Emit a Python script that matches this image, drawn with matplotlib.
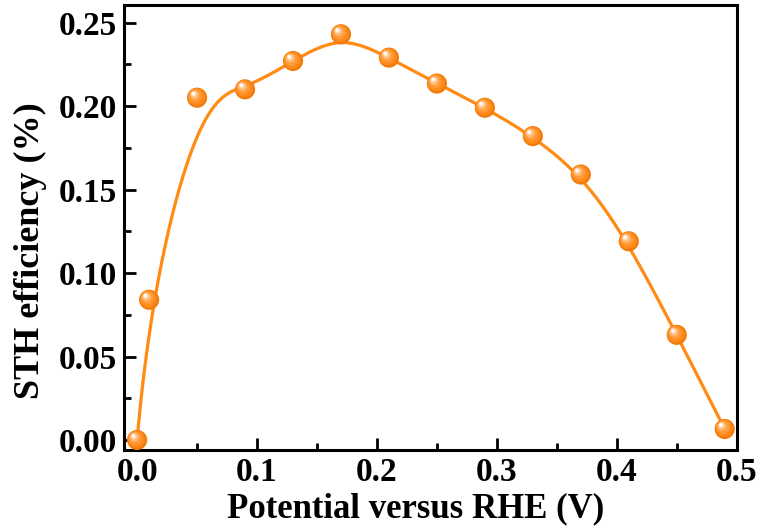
import numpy as np
import matplotlib
matplotlib.use('Agg')
import matplotlib.pyplot as plt
from matplotlib.transforms import offset_copy
from matplotlib.ticker import MultipleLocator

# data
potential = [0.00, 0.01, 0.05, 0.09, 0.13, 0.17, 0.21, 0.25, 0.29, 0.33, 0.37, 0.41, 0.45, 0.49]
sth = [0.000, 0.084, 0.205, 0.210, 0.227, 0.243, 0.229, 0.2135, 0.199, 0.182, 0.159, 0.119, 0.063, 0.0066]

xlabel = 'Potential versus RHE (V)'
ylabel = 'STH efficiency (%)'


def bspline(px, py, k=3, n=500):
    # clamped uniform B-spline, data points as control points (Origin "B-spline" line)
    px = np.asarray(px, float)
    py = np.asarray(py, float)
    m = len(px)
    inner = np.linspace(0, 1, m - k + 1)[1:-1]
    knots = np.concatenate([np.zeros(k + 1), inner, np.ones(k + 1)])
    t = np.linspace(0, 1, n)
    t[-1] -= 1e-9
    B = np.zeros((n, len(knots) - 1))
    for i in range(len(knots) - 1):
        B[:, i] = (t >= knots[i]) & (t < knots[i + 1])
    for d in range(1, k + 1):
        Bn = np.zeros((n, len(knots) - 1 - d))
        for i in range(len(knots) - 1 - d):
            a = knots[i + d] - knots[i]
            b = knots[i + d + 1] - knots[i + 1]
            left = (t - knots[i]) / a * B[:, i] if a > 0 else 0
            right = (knots[i + d + 1] - t) / b * B[:, i + 1] if b > 0 else 0
            Bn[:, i] = left + right
        B = Bn
    return B @ px, B @ py


plt.rcParams['font.family'] = 'Liberation Serif'
plt.rcParams['font.weight'] = 'bold'

fig = plt.figure(figsize=(7.65, 5.31), dpi=100)
ax = fig.add_axes([0.162, 0.1525, 0.801, 0.838])

cx, cy = bspline(potential, sth)
ax.plot(cx, cy, color='#FF8A14', lw=2.3, zorder=2)

# shaded "sphere" markers: stacked circles shifted to upper-left
layers = [(14.5, 0, 0, '#F07A0A'),
          (12.5, -0.6, 0.6, '#FF8A1A'),
          (9.5, -1.2, 1.3, '#FF9B3A'),
          (6.5, -1.9, 2.0, '#FFB772'),
          (4.0, -2.4, 2.6, '#FFDDBB'),
          (2.2, -2.7, 2.9, '#FFFFFF')]
for size, dx, dy, col in layers:
    tr = offset_copy(ax.transData, fig=fig, x=dx, y=dy, units='points')
    ax.scatter(potential, sth, s=size ** 2, color=col, edgecolors='none',
               transform=tr, zorder=3, clip_on=False)

ax.set_xlim(-0.011, 0.5)
ax.set_ylim(-0.006, 0.2605)
ax.xaxis.set_major_locator(MultipleLocator(0.1))
ax.xaxis.set_minor_locator(MultipleLocator(0.05))
ax.yaxis.set_major_locator(MultipleLocator(0.05))
ax.yaxis.set_minor_locator(MultipleLocator(0.025))
ax.xaxis.set_major_formatter(plt.FuncFormatter(lambda v, p: f'{v:.1f}'))
ax.yaxis.set_major_formatter(plt.FuncFormatter(lambda v, p: f'{v:.2f}'))

for s in ax.spines.values():
    s.set_linewidth(2.2)
ax.tick_params(which='both', direction='in', width=2.0, labelsize=24, top=False, right=False)
ax.tick_params(which='major', length=8.5, pad=5)
ax.tick_params(which='minor', length=5)

ax.set_xlabel(xlabel, fontsize=25, fontweight='bold')
ax.set_ylabel(ylabel, fontsize=26, fontweight='bold')
ax.xaxis.set_label_coords(0.476, -0.095)
ax.yaxis.set_label_coords(-0.153, 0.447)
ax.yaxis.label.set_va('center')

fig.savefig('out.png', dpi=100)
